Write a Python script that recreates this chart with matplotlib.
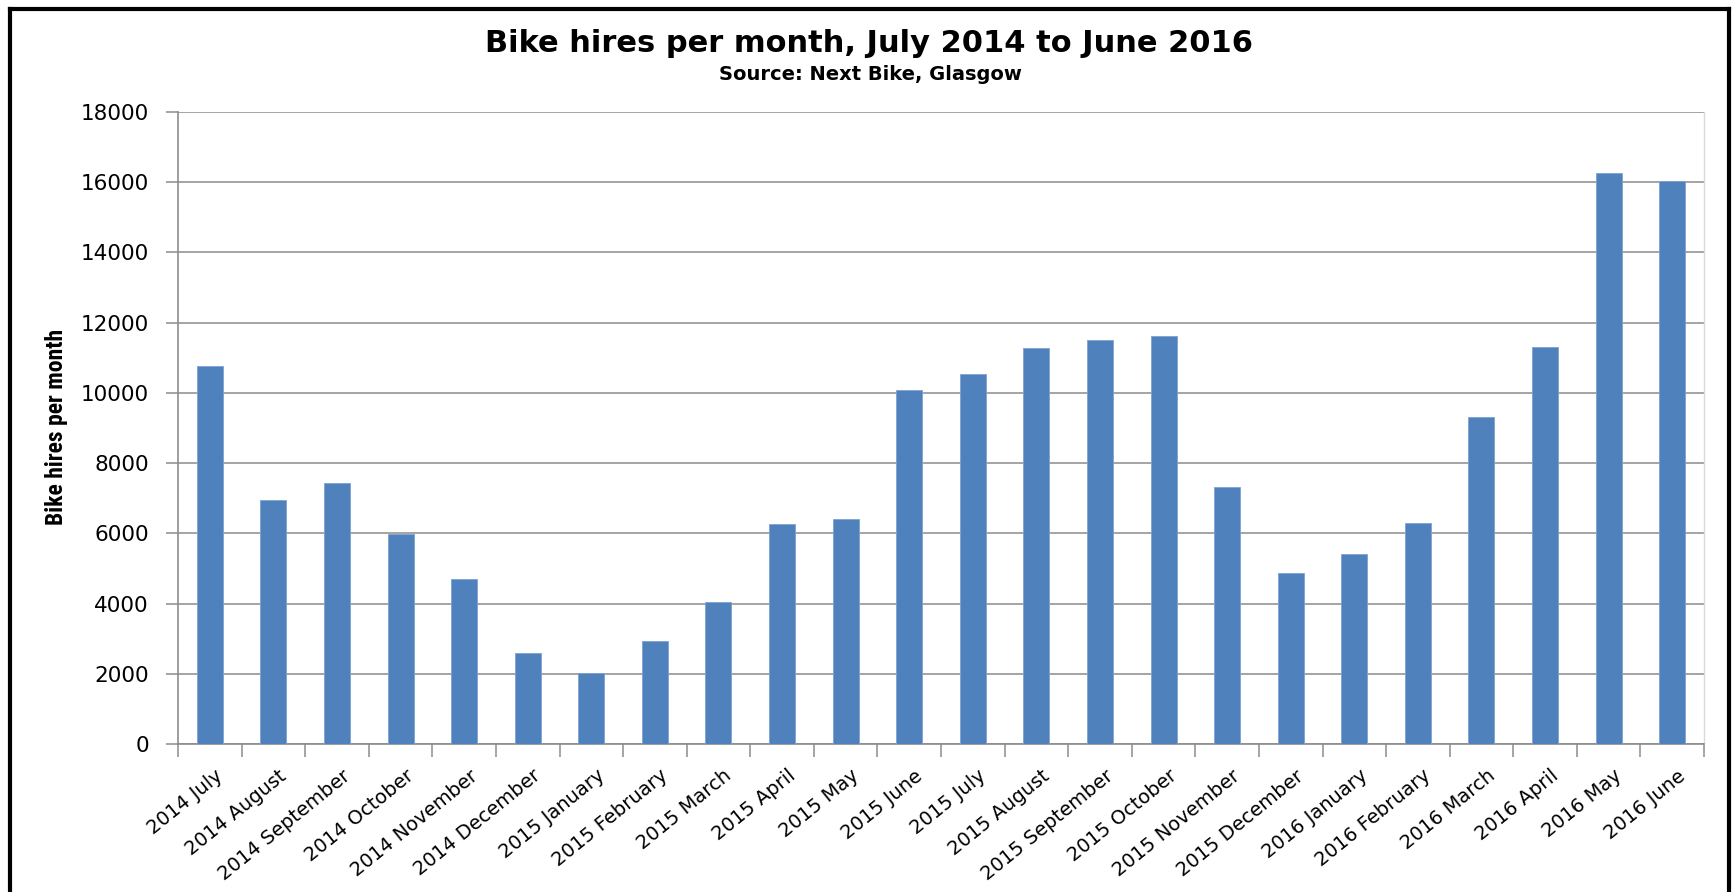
import matplotlib
matplotlib.use("Agg")
import matplotlib.pyplot as plt
import matplotlib.transforms as mtransforms
import matplotlib.font_manager as fm
from matplotlib.lines import Line2D
import numpy as np

months = ["2014 July", "2014 August", "2014 September", "2014 October", "2014 November",
          "2014 December", "2015 January", "2015 February", "2015 March", "2015 April",
          "2015 May", "2015 June", "2015 July", "2015 August", "2015 September",
          "2015 October", "2015 November", "2015 December", "2016 January",
          "2016 February", "2016 March", "2016 April", "2016 May", "2016 June"]
hires = [10760, 6960, 7430, 5970, 4700, 2600, 2010, 2940, 4050, 6260,
         6410, 10090, 10530, 11270, 11520, 11630, 7330, 4860, 5410, 6300,
         9300, 11320, 16260, 16040]
y_ticks = [0, 2000, 4000, 6000, 8000, 10000, 12000, 14000, 16000, 18000]

title = "Bike hires per month, July 2014 to June 2016"
subtitle = "Source: Next Bike, Glasgow"
ylabel = "Bike hires per month"

# pick a narrow bold face for the y-axis title if one is installed
fonts = [(f.name, f.stretch) for f in fm.fontManager.ttflist]
names = {n for n, _ in fonts}
yl_kw = dict(family=["Liberation Sans", "DejaVu Sans"], fontsize=14)
if "Roboto Condensed" in names:
    yl_kw = dict(family=["Roboto Condensed", "DejaVu Sans"], fontsize=17)
elif "Liberation Sans Narrow" in names:
    yl_kw = dict(family=["Liberation Sans Narrow", "DejaVu Sans"], fontsize=17)
elif any(n == "DejaVu Sans" and s == "condensed" for n, s in fonts):
    yl_kw = dict(family=["DejaVu Sans"], fontstretch="condensed", fontsize=14)

W, H = 1736, 892
fig = plt.figure(figsize=(W / 100, H / 100), dpi=100)
fig.patch.set_facecolor("white")

ax = fig.add_axes([178 / W, 1 - 744 / H, (1704 - 178) / W, (744 - 112) / H])
x = np.arange(len(months))
ax.bar(x, hires, width=0.41, color="#4F81BD", edgecolor="#7FA2D2", linewidth=0.6, zorder=3)

ax.set_xlim(-0.5, len(months) - 0.5)
ax.set_ylim(0, 18000)
ax.set_yticks(y_ticks)
ax.set_yticklabels([str(v) for v in y_ticks], fontsize=15.5, family="DejaVu Sans")
ax.grid(axis="y", color="#8C8C8C", linewidth=1.1, zorder=0)
ax.set_axisbelow(True)

ax.set_xticks(x)
ax.set_xticklabels(months, rotation=39, ha="right", va="top", rotation_mode="anchor",
                   fontsize=14, family="DejaVu Sans")
ax.set_xticks(np.arange(len(months) + 1) - 0.5, minor=True)
ax.tick_params(axis="x", which="major", length=0, pad=16)
ax.tick_params(axis="x", which="minor", length=9, width=1.1, color="#8C8C8C")
ax.tick_params(axis="y", length=9, width=1.1, color="#8C8C8C", pad=12)
offset = mtransforms.ScaledTranslation(5 / 100, 0, fig.dpi_scale_trans)
for lab in ax.get_xticklabels():
    lab.set_transform(lab.get_transform() + offset)

for s in ["left", "bottom"]:
    ax.spines[s].set_color("#8C8C8C")
    ax.spines[s].set_linewidth(1.2)
ax.spines["top"].set_visible(False)
ax.spines["right"].set_color("#D9D9D9")
ax.spines["right"].set_linewidth(1.0)

fig.text(57 / W, 1 - 427 / H, ylabel, rotation=90, ha="center", va="center",
         fontweight="bold", **yl_kw)

fig.text(869 / W, 1 - 43 / H, title, ha="center", va="center",
         fontsize=22, fontweight="bold", family="DejaVu Sans")
fig.text(870 / W, 1 - 74 / H, subtitle, ha="center", va="center",
         fontsize=14, fontweight="bold", family="DejaVu Sans")

# chart frame (left, top, right; bottom is cut off in the reference)
fig.add_artist(Line2D([10 / W, 10 / W], [0, 1 - 9 / H], color="black", linewidth=3,
                      transform=fig.transFigure))
fig.add_artist(Line2D([10 / W, 1729 / W], [1 - 9 / H, 1 - 9 / H], color="black", linewidth=3,
                      transform=fig.transFigure))
fig.add_artist(Line2D([1729 / W, 1729 / W], [0, 1 - 9 / H], color="black", linewidth=3,
                      transform=fig.transFigure))

fig.savefig("out.png", dpi=100, facecolor="white")
